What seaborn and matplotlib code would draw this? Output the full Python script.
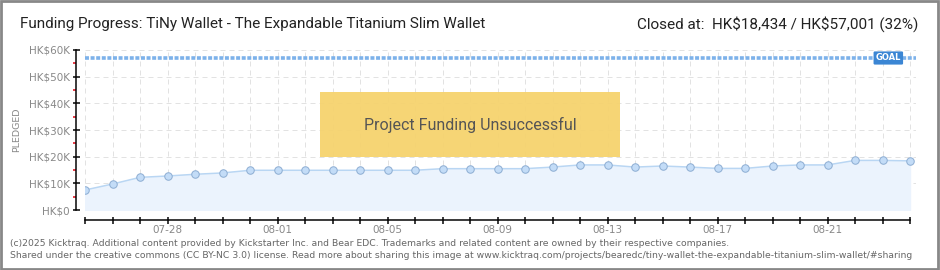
import matplotlib
matplotlib.use("Agg")
import matplotlib.pyplot as plt
import matplotlib.dates as mdates
from matplotlib.patches import Rectangle
import seaborn as sns
import pandas as pd
import numpy as np

# ---- data ----
dates = pd.date_range("2025-07-25", "2025-08-24", freq="D")
pledged = [7500, 9750, 12250, 12750, 13400, 13900, 14900, 14900, 14900, 14900,
           14900, 14900, 14900, 15500, 15500, 15500, 15500, 16100, 16900, 16900,
           16100, 16500, 16100, 15600, 15600, 16500, 16900, 16900, 18600, 18600,
           18434]
goal = 57001
y_ticks = [0, 10000, 20000, 30000, 40000, 50000, 60000]
y_tick_labels = ["HK$0", "HK$10K", "HK$20K", "HK$30K", "HK$40K", "HK$50K", "HK$60K"]
x_label_dates = ["2025-07-28", "2025-08-01", "2025-08-05", "2025-08-09",
                 "2025-08-13", "2025-08-17", "2025-08-21"]
x_tick_labels = ["07-28", "08-01", "08-05", "08-09", "08-13", "08-17", "08-21"]
title = "Funding Progress: TiNy Wallet - The Expandable Titanium Slim Wallet"
closed_text = "Closed at:  HK\\$18,434 / HK\\$57,001 (32%)"
status_text = "Project Funding Unsuccessful"
footer1 = ("(c)2025 Kicktraq. Additional content provided by Kickstarter Inc. and Bear EDC. "
           "Trademarks and related content are owned by their respective companies.")
footer2 = ("Shared under the creative commons (CC BY-NC 3.0) license. Read more about sharing this image at "
           "www.kicktraq.com/projects/bearedc/tiny-wallet-the-expandable-titanium-slim-wallet/#sharing")

df = pd.DataFrame({"date": dates, "pledged": pledged})

sns.set_theme(style="white")
plt.rcParams["font.family"] = ["DejaVu Sans"]

PX = 72 / 100  # points per pixel at dpi 100

fig = plt.figure(figsize=(9.4, 2.7), dpi=100)
ax = fig.add_axes([85 / 940, 60 / 270, 830.5 / 940, 160 / 270])

x0 = mdates.date2num(dates[0])
ax.set_xlim(x0, x0 + 30.2)
ax.set_ylim(0, 60000)

# grid
for d in dates:
    ax.axvline(d, color="#e2e2e2", lw=1 * PX, ls=(0, (5, 4)), zorder=0)
for yv in y_ticks:
    ax.axhline(yv, color="#e2e2e2", lw=1 * PX, ls=(0, (5, 4)), zorder=0)

# fill + line
ax.fill_between(df["date"], df["pledged"], 0, color="#ebf3fd", zorder=1)
sns.lineplot(data=df, x="date", y="pledged", ax=ax, color="#b9d6f3", lw=1.5 * PX,
             marker="o", markersize=7.5 * PX, markerfacecolor="#c3dcf7",
             markeredgecolor="#8eaed3", markeredgewidth=1 * PX, zorder=3)

# goal line
ax.axhline(goal, color="#7db2ea", lw=2.6, ls=(0, (1.1, 0.45)), zorder=2)
ax.text(x0 + 28.75, goal, "GOAL", fontsize=6, color="white", fontweight="bold",
        va="center", ha="left", zorder=5,
        bbox=dict(boxstyle="round,pad=0.25,rounding_size=0.15", fc="#3b86d4", ec="none"))

# status box
bx0 = x0 + (320 - 85) / 27.5
bx1 = x0 + (620 - 85) / 27.5
ax.add_patch(Rectangle((bx0, 19900), bx1 - bx0, 24350, fc="#f6d36e", ec="none",
                       alpha=0.95, zorder=4))
ax.text((bx0 + bx1) / 2, 32000, status_text, fontsize=11.5, color="#555555",
        ha="center", va="center", zorder=5, family=["Roboto", "DejaVu Sans"])

# axes styling
for s in ["top", "right"]:
    ax.spines[s].set_visible(False)
ax.spines["left"].set_position(("outward", 9 * PX))
ax.spines["bottom"].set_position(("outward", 10 * PX))
ax.spines["left"].set_color("black")
ax.spines["bottom"].set_color("black")
ax.spines["left"].set_linewidth(1.5 * PX)
ax.spines["bottom"].set_linewidth(1.5 * PX)
ax.spines["bottom"].set_bounds(x0, x0 + 30)

ax.set_yticks(y_ticks)
ax.set_yticklabels(y_tick_labels)
ax.set_yticks([5000, 15000, 25000, 35000, 45000, 55000], minor=True)
ax.tick_params(axis="y", which="major", direction="inout", length=7 * PX, width=1.5 * PX,
               color="black", labelsize=7.5, labelcolor="#888888", pad=2, left=True)
ax.tick_params(axis="y", which="minor", direction="out", length=3.5 * PX, width=1.5 * PX,
               color="#e0000f", left=True)

ax.set_xticks(mdates.date2num(dates), labels=[""] * len(dates))
ax.tick_params(axis="x", which="major", direction="inout", length=7 * PX, width=1.5 * PX,
               color="black", labelsize=7.5, labelcolor="#888888", pad=1, bottom=True)
for d, lab in zip(x_label_dates, x_tick_labels):
    ax.text(mdates.date2num(pd.Timestamp(d)), -15 / 160, lab, transform=ax.get_xaxis_transform(),
            ha="center", va="top", fontsize=7.5, color="#888888")

ax.set_xlabel("")
ax.set_ylabel("PLEDGED", fontsize=6.8, color="#888888", labelpad=8)
ax.yaxis.set_label_coords(-64 / 830.5, 0.5)

# titles
fig.text(20 / 940, 1 - 24 / 270, title, fontsize=11, color="#222222", ha="left", va="center",
         family=["Roboto", "DejaVu Sans"])
fig.text(918 / 940, 1 - 24 / 270, closed_text, fontsize=11, color="#222222", ha="right", va="center",
         family=["Roboto", "DejaVu Sans"])

# footer
fig.text(10 / 940, 1 - 243 / 270, footer1, fontsize=6.7, color="#666666", ha="left", va="center")
fig.text(10 / 940, 1 - 256 / 270, footer2, fontsize=6.7, color="#666666", ha="left", va="center")

# frame
fig.add_artist(Rectangle((0.001, 0.002), 0.997, 0.995, transform=fig.transFigure,
                         fill=False, ec="#888888", lw=2))

fig.savefig("out.png", dpi=100)
